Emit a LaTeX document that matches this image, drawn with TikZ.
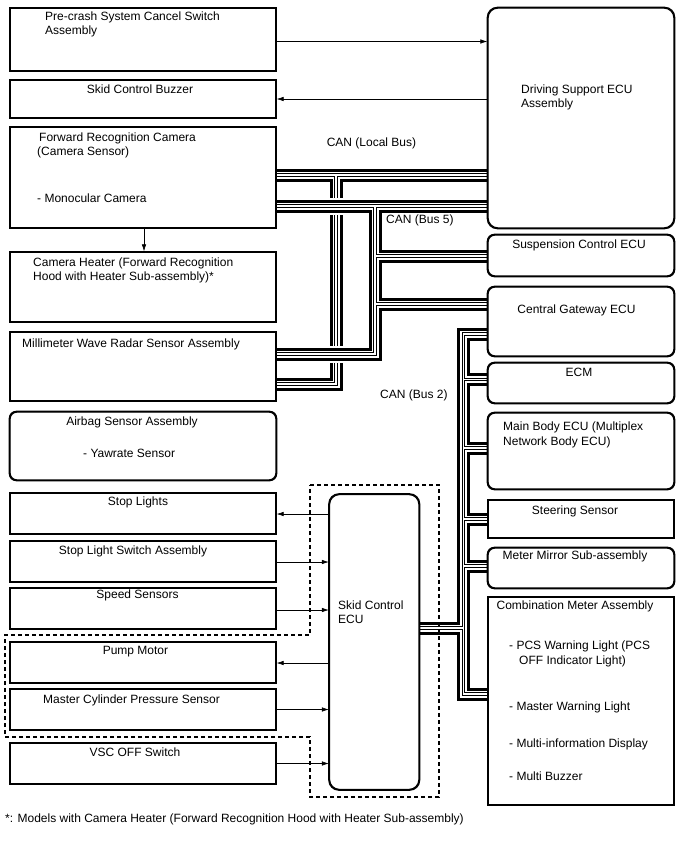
\documentclass[tikz,border=0pt]{standalone}
\usepackage{fontspec}
\setmainfont{Liberation Sans}
\usetikzlibrary{arrows.meta,fit}
\newcommand\buspipe[1]{%
  \draw[line width=13pt] #1;
  \draw[line width=7pt, white] #1;
  \draw[line width=3.6pt] #1;
  \draw[line width=1.5pt, white] #1;}
\begin{document}
\begin{tikzpicture}[x=1pt,y=-1pt,
  sq/.style={draw, line width=1.3pt, inner sep=0pt},
  rd/.style={draw, line width=1.3pt, inner sep=0pt, rounded corners=7pt},
  rdb/.style={draw, line width=1.3pt, inner sep=0pt, rounded corners=10pt},
  lbl/.style={inner sep=0pt, font=\fontsize{12pt}{14pt}\selectfont},
  lw/.style={lbl, anchor=base west},
  lc/.style={lbl, anchor=base},
  arr/.style={line width=0.6pt, -{Latex[length=7pt,width=4.5pt]}},
  dashbox/.style={line width=1.2pt, dash pattern=on 4pt off 3pt},
]
\useasboundingbox (0,0) rectangle (688,852);
% ---------- boxes (geometry) ----------
\node[sq, fit={(10,8) (276,71)}] (pc) {};
\node[sq, fit={(10,80) (276,118)}] (bz) {};
\node[sq, fit={(10,127.5) (276,228)}] (cam) {};
\node[sq, fit={(10,252) (276,322)}] (heat) {};
\node[sq, fit={(10,332) (276,401)}] (radar) {};
\node[rd, fit={(10,412) (276,480)}] (airbag) {};
\node[sq, fit={(10,493.5) (276,534)}] (sl) {};
\node[sq, fit={(10,541.5) (276,581.5)}] (sls) {};
\node[sq, fit={(10,588.5) (276,629)}] (spd) {};
\node[sq, fit={(10,642.5) (276,682.5)}] (pump) {};
\node[sq, fit={(10,689.5) (276,730)}] (mc) {};
\node[sq, fit={(10,743.5) (276,784)}] (vsc) {};
\node[rdb, fit={(329.5,494.5) (419,789.5)}] (skid) {};
\node[rdb, fit={(488,8) (674,228)}] (ds) {};
\node[rd, fit={(488,235) (674,276)}] (susp) {};
\node[rd, fit={(488,287) (674,356)}] (cg) {};
\node[rd, fit={(488,363) (674,403)}] (ecm) {};
\node[rd, fit={(488,413) (674,489)}] (mb) {};
\node[sq, fit={(488,500) (674,538)}] (ss) {};
\node[rd, fit={(488,548) (674,588)}] (mm) {};
\node[sq, fit={(488,597) (674,805)}] (cm) {};
% ---------- junction coordinates ----------
\coordinate (la) at (336,175);
\coordinate (lb) at (336,384);
\coordinate (fa) at (375,206);
\coordinate (fb) at (375,354);
\coordinate (fc) at (375,256);
\coordinate (fd) at (375,304);
\coordinate (ta) at (463.5,334);
\coordinate (tb) at (463.5,694);
\coordinate (tc) at (463.5,379.5);
\coordinate (td) at (463.5,448);
\coordinate (te) at (463.5,519);
\coordinate (tf) at (463.5,566);
\coordinate (tg) at (463.5,628);
% ---------- CAN (Local Bus) ----------
\buspipe{(cam.east |- la) -- (ds.west |- la) (la) -- (lb) -- (radar.east |- lb)}
% ---------- CAN (Bus 5) ----------
\draw[line width=17pt, white] (cam.east |- fa) -- (ds.west |- fa) (fa) -- (fb) -- (radar.east |- fb);
\buspipe{(cam.east |- fa) -- (ds.west |- fa) (fa) -- (fb) -- (radar.east |- fb) (fc) -- (susp.west |- fc) (fd) -- (cg.west |- fd)}
% ---------- CAN (Bus 2) ----------
\buspipe{(cg.west |- ta) -- (ta) -- (tb) -- (cm.west |- tb) (tc) -- (ecm.west |- tc) (td) -- (mb.west |- td) (te) -- (ss.west |- te) (tf) -- (mm.west |- tf) (tg) -- (skid.east |- tg)}
% ---------- redraw box borders on top ----------
\foreach \n in {pc,bz,cam,heat,radar,sl,sls,spd,pump,mc,vsc,ss,cm}
  \draw[line width=1.3pt] (\n.north west) rectangle (\n.south east);
\foreach \n in {airbag,susp,cg,ecm,mb,mm}
  \draw[line width=1.3pt, rounded corners=7pt] (\n.north west) rectangle (\n.south east);
\foreach \n in {skid,ds}
  \draw[line width=1.3pt, rounded corners=10pt] (\n.north west) rectangle (\n.south east);
% ---------- dashed group ----------
\draw[dashbox] (310,485) -- (439,485) -- (439,797) -- (310,797) -- (310,737) -- (5,737) -- (5,635) -- (310,635) -- cycle;
% ---------- arrows ----------
\draw[arr] (pc.east |- 0,41.5) -- (ds.west |- 0,41.5);
\draw[arr] (ds.west |- 0,99) -- (bz.east |- 0,99);
\draw[arr] (cam.south -| 144,0) -- (heat.north -| 144,0);
\draw[arr] (skid.west |- 0,514) -- (sl.east |- 0,514);
\draw[arr] (sls.east |- 0,562) -- (skid.west |- 0,562);
\draw[arr] (spd.east |- 0,610) -- (skid.west |- 0,610);
\draw[arr] (skid.west |- 0,663) -- (pump.east |- 0,663);
\draw[arr] (mc.east |- 0,709.5) -- (skid.west |- 0,709.5);
\draw[arr] (vsc.east |- 0,763.5) -- (skid.west |- 0,763.5);
% ---------- texts ----------
\node[lw] (t1) at (45,20) {Pre-crash System Cancel Switch};
\node[lw] (t2) at (45,34) {Assembly};
\node[lc] (t3) at (140,93) {Skid Control Buzzer};
\node[lw] (t4) at (39,141) {Forward Recognition Camera};
\node[lw] (t5) at (37,155) {(Camera Sensor)};
\node[lw] (t6) at (37,202) {- Monocular Camera};
\node[lw] (t7) at (33,266) {Camera Heater (Forward Recognition};
\node[lw] (t8) at (33,280) {Hood with Heater Sub-assembly)*};
\node[lw] (t9) at (22,347) {Millimeter Wave Radar Sensor Assembly};
\node[lc] (t10) at (132,425) {Airbag Sensor Assembly};
\node[lw] (t11) at (83,457) {- Yawrate Sensor};
\node[lc] (t12) at (138,505) {Stop Lights};
\node[lc] (t13) at (133,554) {Stop Light Switch Assembly};
\node[lc] (t14) at (137.5,598) {Speed Sensors};
\node[lc] (t15) at (135.5,654.5) {Pump Motor};
\node[lc] (t16) at (131.5,703.5) {Master Cylinder Pressure Sensor};
\node[lc] (t17) at (135,756) {VSC OFF Switch};
\node[lw] (t18) at (338,609) {Skid Control};
\node[lw] (t19) at (338,623.5) {ECU};
\node[lw] (t20) at (521,93) {Driving Support ECU};
\node[lw] (t21) at (521,107) {Assembly};
\node[lc] (t22) at (579,248) {Suspension Control ECU};
\node[lc] (t23) at (576.5,313.5) {Central Gateway ECU};
\node[lc] (t24) at (579,376) {ECM};
\node[lw] (t25) at (503,430) {Main Body ECU (Multiplex};
\node[lw] (t26) at (503,445) {Network Body ECU)};
\node[lc] (t27) at (575,514) {Steering Sensor};
\node[lc] (t28) at (575,559) {Meter Mirror Sub-assembly};
\node[lc] (t29) at (575,609) {Combination Meter Assembly};
\node[lw] (t30) at (509,649) {- PCS Warning Light (PCS};
\node[lw] (t31) at (519,664) {OFF Indicator Light)};
\node[lw] (t32) at (509,710) {- Master Warning Light};
\node[lw] (t33) at (509,747) {- Multi-information Display};
\node[lw] (t34) at (509,780) {- Multi Buzzer};
\node[lc] (t35) at (371.5,146.5) {CAN (Local Bus)};
\node[lw] (t36) at (386,223.5) {CAN (Bus 5)};
\node[lw] (t37) at (380,398.5) {CAN (Bus 2)};
\node[lw] (t38) at (5,822) {*: Models with Camera Heater (Forward Recognition Hood with Heater Sub-assembly)};
\end{tikzpicture}
\end{document}
